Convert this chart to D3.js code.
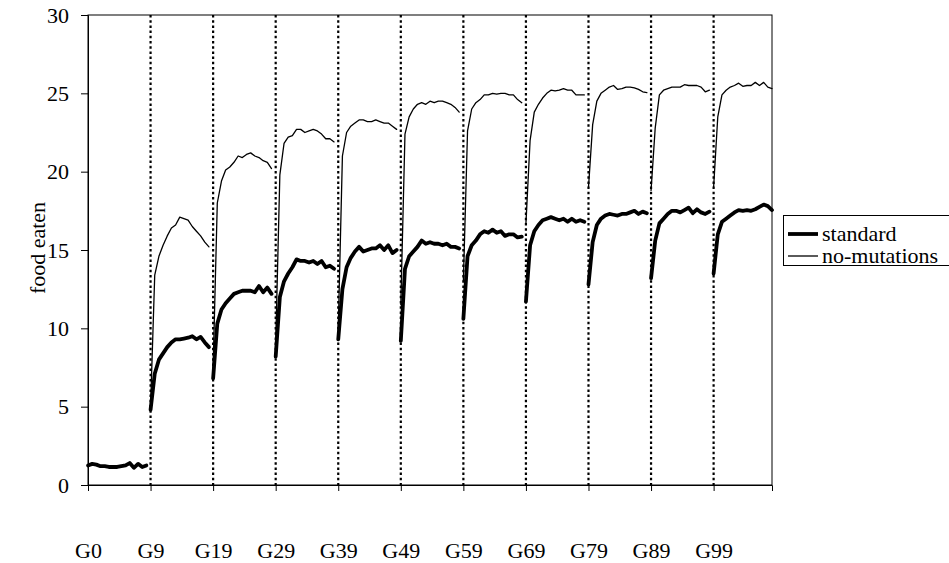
<!DOCTYPE html>
<svg width="949" height="563"></svg>
<script src="https://d3js.org/d3.v7.min.js"></script>
<style>
    body {
        margin: 0;
        background: #fff;
    }

    text {
        font-family: "Liberation Serif", "Times New Roman", serif;
        fill: #000;
    }
</style>
<script>
    // one generation block = 15 points, blocks are not joined
    var segLen = 15;
    var tickLabels = ["G0", "G9", "G19", "G29", "G39", "G49", "G59", "G69", "G79", "G89", "G99"];

    var standard = [
        [1.25, 1.35, 1.3, 1.2, 1.2, 1.15, 1.15, 1.15, 1.2, 1.25, 1.4, 1.1, 1.35, 1.15, 1.25],
        [4.8, 7.1, 8.0, 8.4, 8.8, 9.1, 9.3, 9.3, 9.35, 9.4, 9.5, 9.3, 9.45, 9.1, 8.8],
        [6.8, 10.3, 11.2, 11.6, 11.9, 12.2, 12.3, 12.4, 12.4, 12.4, 12.3, 12.7, 12.3, 12.6, 12.2],
        [8.2, 12.0, 13.0, 13.5, 13.9, 14.4, 14.3, 14.3, 14.2, 14.3, 14.1, 14.3, 13.9, 14.0, 13.8],
        [9.3, 12.5, 13.9, 14.5, 14.9, 15.2, 14.9, 15.0, 15.1, 15.1, 15.3, 15.0, 15.3, 14.8, 15.0],
        [9.2, 13.8, 14.6, 14.9, 15.2, 15.6, 15.4, 15.5, 15.4, 15.4, 15.3, 15.4, 15.2, 15.2, 15.1],
        [10.6, 14.6, 15.3, 15.6, 16.0, 16.2, 16.1, 16.3, 16.1, 16.2, 15.9, 16.0, 16.0, 15.8, 15.85],
        [11.7, 15.3, 16.2, 16.6, 16.9, 17.0, 17.1, 17.0, 16.9, 17.0, 16.8, 17.0, 16.8, 16.9, 16.8],
        [12.8, 15.5, 16.6, 17.0, 17.2, 17.3, 17.25, 17.2, 17.3, 17.3, 17.4, 17.5, 17.3, 17.45, 17.35],
        [13.2, 15.6, 16.7, 17.0, 17.3, 17.5, 17.5, 17.4, 17.55, 17.7, 17.35, 17.6, 17.4, 17.3, 17.45],
        [13.5, 16.0, 16.8, 17.0, 17.2, 17.4, 17.55, 17.5, 17.55, 17.5, 17.6, 17.75, 17.9, 17.8, 17.55]
    ];

    var noMutations = [
        [1.25, 1.35, 1.3, 1.2, 1.2, 1.15, 1.15, 1.15, 1.2, 1.25, 1.4, 1.1, 1.35, 1.15, 1.25],
        [5.0, 13.4, 14.6, 15.3, 15.9, 16.4, 16.6, 17.1, 17.0, 16.9, 16.5, 16.2, 15.9, 15.5, 15.2],
        [7.5, 18.0, 19.4, 20.1, 20.3, 20.6, 21.0, 20.9, 21.1, 21.2, 21.0, 20.9, 20.7, 20.6, 20.2],
        [9.0, 19.8, 21.8, 22.2, 22.3, 22.7, 22.7, 22.5, 22.6, 22.7, 22.6, 22.4, 22.1, 22.1, 21.9],
        [10.0, 21.0, 22.5, 22.9, 23.1, 23.3, 23.3, 23.2, 23.2, 23.3, 23.2, 23.1, 23.1, 22.9, 22.7],
        [11.5, 22.4, 23.5, 24.0, 24.3, 24.4, 24.3, 24.5, 24.4, 24.5, 24.5, 24.4, 24.3, 24.1, 23.8],
        [13.0, 22.6, 24.0, 24.4, 24.6, 24.9, 24.9, 25.0, 24.95, 25.0, 25.0, 24.9, 24.9, 24.6, 24.4],
        [16.7, 22.0, 23.8, 24.3, 24.7, 25.0, 25.2, 25.15, 25.2, 25.3, 25.2, 25.2, 24.9, 24.9, 24.9],
        [19.0, 23.0, 24.5, 25.0, 25.2, 25.4, 25.5, 25.25, 25.3, 25.4, 25.4, 25.35, 25.25, 25.1, 25.05],
        [18.8, 22.8, 24.9, 25.2, 25.3, 25.4, 25.4, 25.4, 25.55, 25.5, 25.5, 25.5, 25.4, 25.1, 25.2],
        [19.0, 23.5, 24.9, 25.2, 25.4, 25.5, 25.65, 25.45, 25.5, 25.5, 25.7, 25.5, 25.7, 25.4, 25.3]
    ];

    var seriesNames = ["standard", "no-mutations"];
    var yTicks = [0, 5, 10, 15, 20, 25, 30];

    var svg = d3.select("svg"),
        plotLeft = 88, plotRight = 772, plotTop = 15, plotBottom = 485;

    var nPoints = segLen * (standard.length - 1) + standard[standard.length - 1].length;

    var x = d3.scaleLinear()
        .domain([0, nPoints - 1])
        .range([plotLeft, plotRight]);

    var y = d3.scaleLinear()
        .domain([0, 30])
        .range([plotBottom, plotTop]);

    // dotted separators between generation blocks
    svg.append("g")
        .selectAll("line")
        .data(d3.range(1, tickLabels.length))
        .enter().append("line")
        .attr("x1", function (d) { return x(d * segLen); })
        .attr("x2", function (d) { return x(d * segLen); })
        .attr("y1", plotTop)
        .attr("y2", plotBottom)
        .attr("stroke", "#000")
        .attr("stroke-width", 2.2)
        .attr("stroke-dasharray", "2.5,2.7");

    // plot frame
    svg.append("rect")
        .attr("x", plotLeft)
        .attr("y", plotTop)
        .attr("width", plotRight - plotLeft)
        .attr("height", plotBottom - plotTop)
        .attr("fill", "none")
        .attr("stroke", "#000")
        .attr("stroke-width", 1);

    svg.append("g")
        .attr("transform", "translate(" + plotLeft + ",0)")
        .call(d3.axisLeft(y).tickValues(yTicks).tickSize(7).tickPadding(12));

    svg.append("g")
        .attr("transform", "translate(0," + plotBottom + ")")
        .call(d3.axisBottom(x)
            .tickValues(d3.range(0, tickLabels.length).map(function (i) { return i * segLen; }))
            .tickFormat(function (d, i) { return tickLabels[i]; })
            .tickSize(6)
            .tickPadding(51));

    svg.selectAll(".tick text")
        .attr("font-size", 22)
        .attr("font-family", "Liberation Serif");
    svg.selectAll(".tick line, .domain").attr("stroke", "#000");

    svg.append("text")
        .attr("transform", "translate(37," + ((plotTop + plotBottom) / 2 - 2) + ") rotate(-90)")
        .attr("text-anchor", "middle")
        .attr("dy", "0.35em")
        .attr("font-size", 22)
        .text("food eaten");

    function segLine(k) {
        return d3.line()
            .x(function (d, i) { return x(k * segLen + i); })
            .y(function (d) { return y(d); });
    }

    function drawSeries(data, width) {
        svg.append("g")
            .selectAll("path")
            .data(data)
            .enter().append("path")
            .attr("d", function (d, k) { return segLine(k)(d); })
            .attr("fill", "none")
            .attr("stroke", "#000")
            .attr("stroke-width", width)
            .attr("stroke-linejoin", "round")
            .attr("stroke-linecap", "round");
    }

    drawSeries(standard, 3.8);
    drawSeries(noMutations, 1.3);

    // legend
    var legend = svg.append("g");
    legend.append("rect")
        .attr("x", 783.5)
        .attr("y", 215.5)
        .attr("width", 170)
        .attr("height", 50)
        .attr("fill", "#fff")
        .attr("stroke", "#000");

    var rows = legend.selectAll("g.row")
        .data(seriesNames)
        .enter().append("g")
        .attr("class", "row")
        .attr("transform", function (d, i) { return "translate(0," + (234 + i * 22) + ")"; });

    rows.append("line")
        .attr("x1", 788)
        .attr("x2", 818)
        .attr("stroke", "#000")
        .attr("stroke-width", function (d, i) { return i === 0 ? 3.8 : 1.3; });

    rows.append("text")
        .attr("x", 822)
        .attr("dy", "0.33em")
        .attr("font-size", 22)
        .text(function (d) { return d; });
</script>
